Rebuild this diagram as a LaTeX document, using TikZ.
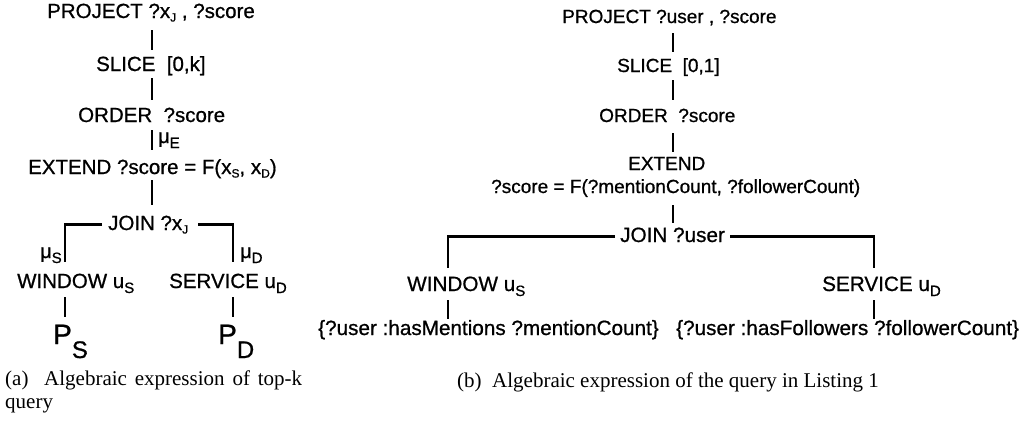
\documentclass[tikz,border=0pt]{standalone}
\usepackage{fontspec}
\setmainfont{Liberation Sans}[RawFeature={embolden=0.8}]
\newfontfamily\capfont{Liberation Serif}
\newcommand\lo[1]{\raisebox{-5pt}{\fontsize{15}{15}\selectfont #1}}
\newcommand\los[1]{\raisebox{-3.5pt}{\fontsize{12}{12}\selectfont #1}}
\begin{document}
\begin{tikzpicture}[x=1pt,y=-1pt,
  lt/.style={anchor=base west,inner sep=0pt,text height=15pt,text depth=4pt,font=\fontsize{20.5}{24}\selectfont},
  rt/.style={anchor=base west,inner sep=0pt,text height=15pt,text depth=4pt,font=\fontsize{19}{23}\selectfont},
  rtb/.style={rt,font=\fontsize{20.7}{24}\selectfont},
  lbl/.style={anchor=base west,inner sep=0pt,font=\fontsize{20}{24}\selectfont},
  big/.style={anchor=base west,inner sep=0pt,text height=21pt,text depth=0pt,font=\fontsize{28}{30}\selectfont},
  captxt/.style={anchor=base west,inner sep=0pt,font=\capfont\fontsize{21}{23}\selectfont},
  link/.style 2 args={line width=2.2pt,shorten <=#1pt,shorten >=#2pt}]
\useasboundingbox[fill=white] (0,0) rectangle (1024,426);
% ---------- (a) ----------
\coordinate (sL) at (152,0);
\coordinate (bL) at (65,0);
\coordinate (bR) at (233,0);
\node[lt] (p1) at (47,18) {PROJECT ?x\los{J} , ?score};
\node[lt] (s1) at (96,71) {SLICE\ \ [0,k]};
\node[lt] (o1) at (78,122) {ORDER\ \ ?score};
\node[lbl] (muE) at (158,143) {μ\lo{E}};
\node[lt] (e1) at (28,174) {EXTEND ?score = F(x\los{S}, x\los{D})};
\node[lt] (j1) at (108,230) {JOIN ?x\los{J}};
\node[lbl] (muS) at (40,258) {μ\lo{S}};
\node[lbl] (muD) at (240,258) {μ\lo{D}};
\node[lt] (w1) at (17,288) {WINDOW u\lo{S}};
\node[lt] (v1) at (169,288) {SERVICE u\lo{D}};
\node[big] (ps) at (53,344) {P\raisebox{-14pt}{\fontsize{24}{24}\selectfont S}};
\node[big] (pd) at (218,344) {P\raisebox{-14pt}{\fontsize{24}{24}\selectfont D}};
\draw[link={8}{6}] (p1.south -| sL) -- (s1.north -| sL);
\draw[link={3}{7}] (s1.south -| sL) -- (o1.north -| sL);
\draw[link={4}{9}] (o1.south -| sL) -- (e1.north -| sL);
\draw[link={2}{10}] (e1.south -| sL) -- (j1.north -| sL);
\draw[link={6}{11}] (j1.west) -| (w1.north -| bL);
\draw[link={10}{11}] (j1.east) -| (v1.north -| bR);
\draw[link={5}{6}] (w1.south -| bL) -- (ps.north -| bL);
\draw[link={5}{6}] (v1.south -| bR) -- (pd.north -| bR);
\node[captxt,text width=297pt,align=justify,anchor=north west] (ca) at (5,371)
  {\hyphenpenalty=10000 (a)\ \ Algebraic expression of top-k query};
% ---------- (b) ----------
\coordinate (sR) at (673,0);
\coordinate (cL) at (448,0);
\coordinate (cR) at (874,0);
\node[rt] (p2) at (562,23) {PROJECT ?user , ?score};
\node[rt] (s2) at (617,72) {SLICE\ \ [0,1]};
\node[rt] (o2) at (599,122) {ORDER\ \ ?score};
\node[rt] (e2) at (628,170) {EXTEND};
\node[rt] (f2) at (491,193) {?score = F(?mentionCount, ?followerCount)};
\node[rtb] (j2) at (620,242) {JOIN ?user};
\node[rtb] (w2) at (407,291) {WINDOW u\lo{S}};
\node[rtb] (v2) at (822,291) {SERVICE u\lo{D}};
\node[rtb] (t1) at (318,335) {\{?user :hasMentions ?mentionCount\}};
\node[rtb] (t2) at (676,335) {\{?user :hasFollowers ?followerCount\}};
\draw[link={6}{5}] (p2.south -| sR) -- (s2.north -| sR);
\draw[link={4}{7}] (s2.south -| sR) -- (o2.north -| sR);
\draw[link={7}{3}] (o2.south -| sR) -- (e2.north -| sR);
\draw[link={8}{4}] (f2.south -| sR) -- (j2.north -| sR);
\draw[link={5}{8}] (j2.west) -| (w2.north -| cL);
\draw[link={5}{8}] (j2.east) -| (v2.north -| cR);
\draw[link={5}{1}] (w2.south -| cL) -- (t1.north -| cL);
\draw[link={5}{1}] (v2.south -| cR) -- (t2.north -| cR);
\node[captxt] (cb) at (457,387) {(b)\ \ Algebraic expression of the query in Listing 1};
\end{tikzpicture}
\end{document}
